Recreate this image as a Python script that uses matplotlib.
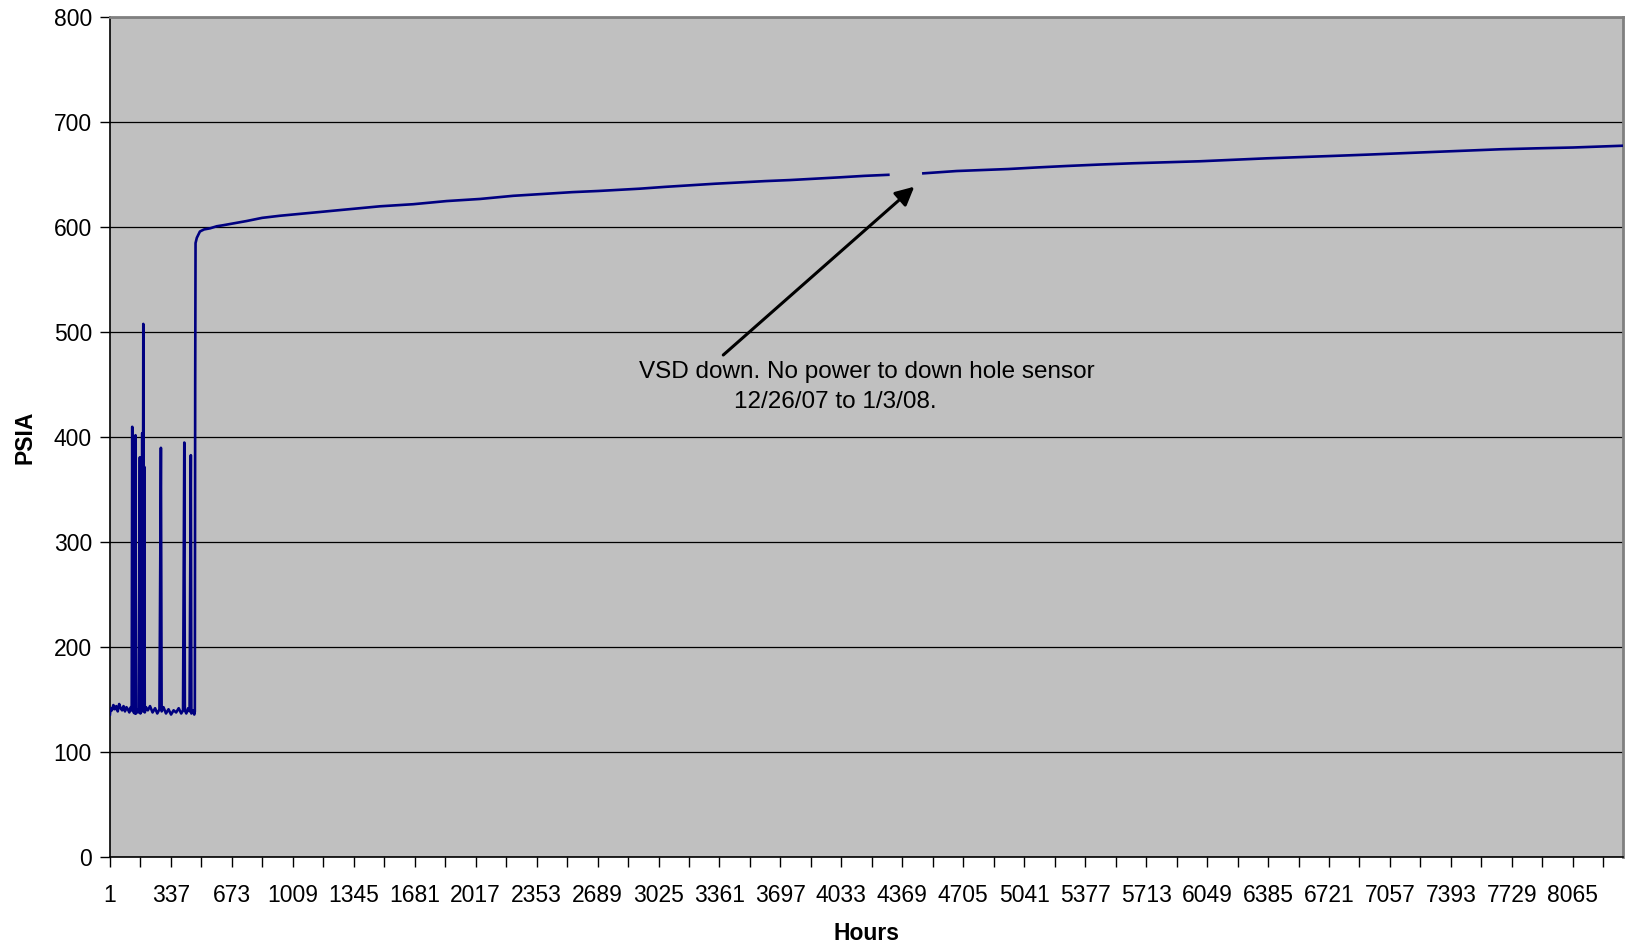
import matplotlib.pyplot as plt
import numpy as np

plt.rcParams['font.family'] = ['Liberation Sans', 'DejaVu Sans']

# Stunden und Druck (PSIA)
hours = [1, 5, 12, 20, 28, 36, 44, 52, 60, 68, 76, 84, 92, 100, 108, 116, 121,
         124, 127, 132, 138, 142, 145, 152, 160, 166, 169, 174, 179, 182,
         185, 187, 190, 193, 200, 210, 222, 236, 250, 262, 274, 282, 286,
         296, 310, 324, 338, 352, 366, 380, 394, 404, 411, 414, 422, 432,
         440, 447, 450, 458, 466, 469, 471, 473, 480, 497, 520, 552, 590,
         626, 690, 755, 840, 938, 1030, 1122, 1214, 1306, 1400, 1489, 1580,
         1673, 1765, 1857, 1950, 2041, 2130, 2224, 2316, 2408, 2550, 2693,
         2923, 3060, 3198, 3336, 3474, 3612, 3750, 3888, 4025, 4160, 4292,
         4390,
         4485, 4580, 4668, 4810, 4952, 5110, 5275, 5460, 5642, 5830, 6010,
         6190, 6377, 6560, 6745, 6930, 7112, 7300, 7480, 7664, 7860, 8066,
         8200, 8340]
psia = [136, 142, 140, 145, 141, 144, 139, 146, 142, 140, 144, 139, 143, 141,
        138, 143, 140,
        410, 140, 138, 137, 402, 137, 141, 138, 381, 137, 141, 404, 139,
        508, 141, 372, 138, 143, 140, 144, 138, 142, 137, 141, 390, 139,
        143, 137, 141, 136, 140, 138, 142, 137, 140, 395, 140, 137, 142,
        139, 383, 137, 140, 136, 139, 450, 585, 590, 596, 598, 599, 601,
        602, 604, 606, 609, 611, 612.5, 614, 615.5, 617, 618.5, 620, 621,
        622, 623.5, 625, 626, 627, 628.5, 630, 631, 632, 633.5, 634.6,
        636.8, 638.5, 640, 641.5, 642.8, 644, 645, 646.3, 647.6, 649, 650,
        np.nan,
        651.4, 652.5, 653.6, 654.5, 655.5, 657, 658.4, 659.8, 661, 662, 662.9,
        664.3, 665.7, 666.8, 668, 669.2, 670.5, 671.8, 673, 674.3, 675.2, 676,
        676.8, 677.7]

ylim = (0, 800)
xlim = (1, 8340)
yticks = list(range(0, 801, 100))
xticks = list(range(1, 8340, 168))
xlabels = [str(t) if i % 2 == 0 else '' for i, t in enumerate(xticks)]

fig = plt.figure(figsize=(16.31, 9.51), dpi=100)
ax = fig.add_axes([0.0674, 0.0985, 0.9275, 0.8833])
ax.set_facecolor('#C0C0C0')

ax.plot(hours, psia, color='#000080', lw=1.9, zorder=3)

ax.set_xlim(xlim)
ax.set_ylim(ylim)
ax.set_yticks(yticks)
ax.set_xticks(xticks)
ax.set_xticklabels(xlabels)
ax.grid(axis='y', color='black', lw=0.9, zorder=1)
ax.set_axisbelow(True)

ax.tick_params(axis='both', direction='out', length=7, width=1, labelsize=16.5)
ax.tick_params(axis='x', pad=12)
ax.tick_params(axis='y', pad=6)

for s in ['top', 'right']:
    ax.spines[s].set_color('#808080')
    ax.spines[s].set_linewidth(2)
for s in ['left', 'bottom']:
    ax.spines[s].set_color('black')
    ax.spines[s].set_linewidth(1.2)

ax.set_ylabel('PSIA', fontsize=16.5, fontweight='bold', labelpad=12)
ax.set_xlabel('Hours', fontsize=16.5, fontweight='bold', labelpad=11)

# Annotation zur Lücke
ax.annotate('', xy=(4435, 638.7), xytext=(3382, 478.4),
            arrowprops=dict(arrowstyle='-|>', color='black', lw=2.2,
                            mutation_scale=28, shrinkA=0, shrinkB=0))
ax.text(2915, 462.5, 'VSD down. No power to down hole sensor',
        fontsize=17.5, ha='left', va='center')
ax.text(3440, 434, '12/26/07 to 1/3/08.',
        fontsize=17.5, ha='left', va='center')

plt.savefig('out.png', dpi=100)
